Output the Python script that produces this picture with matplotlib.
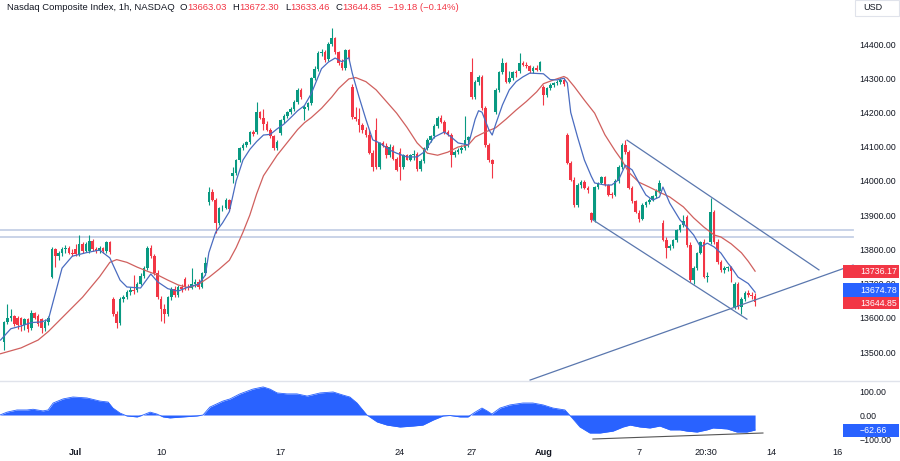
import matplotlib
matplotlib.use("Agg")
import matplotlib.pyplot as plt
import matplotlib.transforms as mtransforms
from matplotlib.patches import Rectangle

plt.rcParams['font.family'] = ['Liberation Sans', 'DejaVu Sans']

# Nasdaq Composite, 1h candles, Jun 28 - Aug 11 2023 (one line per session)
opens = [
    13530, 13588, 13598, 13604, 13600, 13598, 13578,  # Jun 28
    13595, 13570, 13615, 13605, 13595, 13570, 13588,  # Jun 29
    13720, 13800, 13780, 13788, 13800, 13805, 13790,  # Jun 30
    13800, 13785, 13815, 13795,                       # Jul 3 (half day)
    13795, 13825, 13800, 13796, 13805, 13795, 13820,  # Jul 5
    13655, 13612, 13585, 13655, 13662, 13675, 13682,  # Jul 6
    13680, 13700, 13722, 13745, 13805, 13780, 13732,  # Jul 7
    13655, 13625, 13610, 13660, 13685, 13668, 13690,  # Jul 10
    13712, 13690, 13688, 13698, 13705, 13690, 13731,  # Jul 11
    13938, 13968, 13945, 13877, 13920, 13922, 13945,  # Jul 12
    14015, 14023, 14061, 14096, 14105, 14113, 14142,  # Jul 13
    14142, 14201, 14185, 14165, 14150, 14130, 14096,  # Jul 14
    14140, 14178, 14190, 14200, 14210, 14230, 14265,  # Jul 17
    14210, 14216, 14228, 14300, 14328, 14375, 14378,  # Jul 18
    14355, 14400, 14417, 14377, 14344, 14330, 14382,  # Jul 19
    14275, 14187, 14182, 14163, 14148, 14134, 14081,  # Jul 20
    14150, 14040, 14110, 14102, 14075, 14100, 14065,  # Jul 21
    14085, 14040, 14075, 14062, 14075, 14080, 14035,  # Jul 24
    14058, 14096, 14120, 14130, 14160, 14185, 14172,  # Jul 25
    14144, 14135, 14075, 14085, 14090, 14095, 14120,  # Jul 26
    14318, 14245, 14289, 14304, 14213, 14105, 14061,  # Jul 27
    14201, 14266, 14318, 14344, 14290, 14300, 14318,  # Jul 28
    14320, 14345, 14340, 14335, 14320, 14330, 14325,  # Jul 31
    14275, 14251, 14270, 14280, 14285, 14290, 14295,  # Aug 1
    14134, 14052, 14002, 13930, 13988, 13998, 13980,  # Aug 2
    13905, 13886, 13982, 13994, 14011, 13988, 13960,  # Aug 3
    13960, 14000, 14040, 14104, 14085, 13979, 13940,  # Aug 4
    13905, 13890, 13930, 13938, 13945, 13955, 13970,  # Aug 7
    13877, 13827, 13804, 13810, 13827, 13857, 13872,  # Aug 8
    13895, 13812, 13710, 13745, 13789, 13821, 13719,  # Aug 9
    13821, 13909, 13821, 13763, 13739, 13745, 13748,  # Aug 10
    13632, 13700, 13632, 13655, 13672, 13666, 13663.03,  # Aug 11
]
highs = [
    13592, 13640, 13625, 13608, 13606, 13602, 13600,
    13598, 13622, 13618, 13610, 13598, 13595, 13605,
    13808, 13805, 13795, 13808, 13812, 13810, 13800,
    13815, 13842, 13820, 13822,
    13842, 13830, 13808, 13810, 13808, 13825, 13825,
    13660, 13620, 13660, 13668, 13680, 13690, 13725,
    13705, 13730, 13752, 13810, 13812, 13785, 13740,
    13665, 13640, 13665, 13690, 13692, 13695, 13698,
    13718, 13700, 13745, 13712, 13712, 13735, 13778,
    13982, 13975, 13950, 13925, 13930, 13950, 13948,
    14040, 14065, 14100, 14110, 14118, 14145, 14148,
    14232, 14205, 14210, 14175, 14155, 14135, 14120,
    14182, 14195, 14205, 14215, 14235, 14272, 14270,
    14222, 14232, 14305, 14335, 14380, 14385, 14382,
    14405, 14447, 14420, 14380, 14355, 14386, 14386,
    14282, 14215, 14213, 14170, 14158, 14150, 14090,
    14185, 14115, 14118, 14110, 14108, 14105, 14070,
    14095, 14080, 14080, 14080, 14090, 14085, 14065,
    14100, 14125, 14135, 14165, 14190, 14192, 14178,
    14148, 14140, 14090, 14095, 14105, 14190, 14130,
    14360, 14295, 14310, 14310, 14218, 14110, 14065,
    14270, 14322, 14360, 14348, 14320, 14322, 14325,
    14374, 14350, 14348, 14340, 14335, 14340, 14350,
    14280, 14275, 14285, 14290, 14295, 14300, 14300,
    14140, 14058, 14010, 13995, 14002, 14003, 13985,
    13910, 13985, 13998, 14015, 14015, 13992, 13968,
    14005, 14045, 14110, 14120, 14090, 13985, 13945,
    13915, 13935, 13942, 13950, 13958, 13975, 14002,
    13885, 13835, 13815, 13830, 13860, 13875, 13900,
    13900, 13820, 13750, 13792, 13825, 13830, 13735,
    13950, 13915, 13830, 13770, 13750, 13752, 13752,
    13705, 13705, 13660, 13678, 13680, 13675, 13672.30,
]
lows = [
    13505, 13582, 13592, 13575, 13568, 13560, 13565,
    13558, 13565, 13595, 13575, 13555, 13560, 13580,
    13715, 13748, 13770, 13782, 13790, 13785, 13782,
    13780, 13780, 13790, 13792,
    13788, 13795, 13790, 13788, 13790, 13790, 13785,
    13605, 13570, 13580, 13645, 13655, 13668, 13670,
    13676, 13695, 13715, 13740, 13775, 13725, 13655,
    13590, 13585, 13605, 13652, 13660, 13662, 13675,
    13680, 13682, 13684, 13690, 13684, 13686, 13725,
    13930, 13940, 13848, 13870, 13912, 13918, 13912,
    13995, 14018, 14055, 14090, 14098, 14108, 14130,
    14138, 14180, 14150, 14145, 14125, 14090, 14090,
    14135, 14170, 14185, 14195, 14205, 14225, 14240,
    14178, 14208, 14222, 14295, 14320, 14365, 14348,
    14350, 14395, 14372, 14340, 14325, 14325, 14352,
    14180, 14175, 14142, 14140, 14128, 14078, 14030,
    14035, 14035, 14098, 14068, 14070, 14060, 14030,
    14003, 14035, 14060, 14058, 14060, 14030, 14030,
    14052, 14090, 14115, 14125, 14155, 14168, 14138,
    14130, 14040, 14070, 14078, 14082, 14090, 14100,
    14240, 14240, 14280, 14208, 14100, 14055, 14008,
    14195, 14260, 14312, 14285, 14285, 14295, 14305,
    14315, 14335, 14330, 14315, 14315, 14322, 14320,
    14222, 14245, 14265, 14275, 14280, 14282, 14278,
    14050, 14000, 13925, 13925, 13980, 13975, 13965,
    13880, 13880, 13975, 13990, 13985, 13955, 13950,
    13955, 13995, 14035, 14080, 13975, 13935, 13905,
    13880, 13885, 13925, 13932, 13940, 13950, 13965,
    13825, 13775, 13798, 13805, 13822, 13850, 13865,
    13808, 13705, 13700, 13740, 13785, 13715, 13705,
    13815, 13815, 13758, 13735, 13732, 13738, 13705,
    13625, 13625, 13610, 13650, 13660, 13655, 13633.46,
]
closes = [
    13588, 13598, 13604, 13582, 13580, 13578, 13595,
    13568, 13615, 13600, 13582, 13570, 13588, 13600,
    13800, 13780, 13788, 13800, 13805, 13790, 13787,
    13785, 13815, 13795, 13816,
    13825, 13800, 13796, 13805, 13795, 13820, 13791,
    13612, 13585, 13655, 13662, 13675, 13682, 13679,
    13700, 13722, 13745, 13805, 13780, 13732, 13660,
    13625, 13610, 13660, 13685, 13668, 13690, 13685,
    13690, 13688, 13698, 13705, 13690, 13731, 13760,
    13968, 13945, 13877, 13920, 13922, 13945, 13918,
    14023, 14061, 14096, 14105, 14113, 14142, 14138,
    14201, 14185, 14165, 14150, 14130, 14096, 14113,
    14178, 14190, 14200, 14210, 14230, 14265, 14244,
    14216, 14228, 14300, 14328, 14375, 14378, 14353,
    14400, 14417, 14377, 14344, 14330, 14382, 14358,
    14187, 14182, 14163, 14148, 14134, 14081, 14040,
    14040, 14110, 14102, 14075, 14100, 14065, 14032,
    14040, 14075, 14062, 14075, 14080, 14035, 14058,
    14096, 14120, 14130, 14160, 14185, 14172, 14144,
    14135, 14075, 14085, 14090, 14095, 14120, 14127,
    14245, 14289, 14304, 14213, 14105, 14061, 14050,
    14266, 14318, 14344, 14290, 14300, 14318, 14316,
    14345, 14340, 14335, 14320, 14330, 14325, 14346,
    14251, 14270, 14280, 14285, 14290, 14295, 14283,
    14052, 14002, 13930, 13988, 13998, 13980, 13973,
    13886, 13982, 13994, 14011, 13988, 13960, 13959,
    14000, 14040, 14104, 14085, 13979, 13940, 13909,
    13890, 13930, 13938, 13945, 13955, 13970, 13994,
    13827, 13804, 13810, 13827, 13857, 13872, 13884,
    13812, 13710, 13745, 13789, 13821, 13719, 13722,
    13909, 13821, 13763, 13739, 13745, 13748, 13737,
    13700, 13632, 13655, 13672, 13666, 13663, 13644.85,
]

# moving averages (bar number, value)
fast_ma_bar = [-1, 2, 5, 8, 11, 13, 15, 17, 20, 24, 28, 31, 34, 36, 40, 43, 45, 48,
               51, 54, 57, 59, 60, 62, 64, 66, 68, 70, 72, 74, 76, 78, 80, 82, 84,
               86, 88, 90, 93, 95, 97, 99, 101, 102, 104, 106, 108, 110, 113, 115,
               118, 121, 123, 126, 129, 131, 133, 136, 138, 139, 140, 142, 143, 144,
               146, 148, 150, 152, 154, 158, 160, 162, 164, 165, 166, 168, 170, 172,
               173, 176, 178, 180, 182, 184, 186, 188, 190, 192, 193, 195, 198, 200,
               202, 204, 206, 208, 210, 212, 213, 215, 218, 220]
fast_ma = [13535, 13568, 13576, 13586, 13588, 13595, 13670, 13745, 13780, 13790,
           13798, 13775, 13710, 13690, 13687, 13728, 13705, 13685, 13678, 13690,
           13698, 13725, 13790, 13850, 13877, 13910, 14000, 14061, 14092, 14115,
           14134, 14136, 14152, 14166, 14185, 14205, 14220, 14255, 14328, 14347,
           14359, 14348, 14360, 14315, 14245, 14180, 14120, 14111, 14090, 14081,
           14070, 14070, 14084, 14128, 14143, 14128, 14111, 14105, 14180, 14205,
           14201, 14150, 14134, 14165, 14222, 14266, 14290, 14304, 14315, 14313,
           14296, 14295, 14300, 14286, 14200, 14128, 14061, 14014, 13994, 13988,
           13988, 14003, 14046, 14032, 13994, 13959, 13944, 13953, 13982, 13935,
           13886, 13865, 13842, 13807, 13818, 13807, 13789, 13760, 13748, 13719,
           13700, 13674.78]
slow_ma_bar = [-1, 5, 10, 13, 18, 23, 28, 31, 33, 36, 39, 42, 45, 48, 51, 54, 57, 60,
               63, 66, 68, 70, 72, 74, 76, 78, 80, 82, 84, 86, 88, 90, 93, 96, 98, 101,
               103, 106, 109, 112, 115, 118, 121, 124, 127, 130, 133, 136, 138, 141,
               144, 147, 150, 153, 156, 158, 161, 164, 165, 167, 170, 173, 176, 179,
               181, 183, 186, 189, 192, 195, 199, 202, 205, 208, 210, 213, 216, 218, 220]
slow_ma = [13495, 13512, 13535, 13560, 13610, 13660, 13720, 13762, 13770, 13762,
           13748, 13736, 13725, 13710, 13696, 13688, 13698, 13718, 13742, 13768,
           13805, 13850, 13900, 13962, 14015, 14045, 14075, 14100, 14125, 14150,
           14170, 14185, 14212, 14245, 14270, 14298, 14302, 14290, 14266, 14232,
           14198, 14157, 14111, 14081, 14075, 14084, 14099, 14105, 14128, 14143,
           14155, 14180, 14207, 14232, 14260, 14284, 14295, 14305, 14300, 14276,
           14236, 14198, 14135, 14088, 14060, 14025, 13996, 13982, 13967, 13953,
           13924, 13892, 13865, 13842, 13836, 13816, 13790, 13765, 13736.17]

# oscillator in the lower pane (bar number, value)
osc_bar = [-1.2, 0.9, 3.8, 6.7, 8.5, 11.4, 12.9, 14.4, 17.3, 20.2, 24.3, 28.1, 30.5,
           31.9, 34, 36, 39, 40.7, 42.8, 44.8, 46.6, 48.6, 52.4, 56.5, 58.3, 60.3,
           64.1, 66.2, 69.1, 72.9, 75.9, 77.9, 80, 82.9, 85.8, 88.8, 92.6, 96.4,
           99.3, 101.3, 103.4, 106.3, 109.3, 112.2, 116, 119.8, 122.7, 125.7, 128.6,
           130.6, 133.6, 135.9, 138, 140, 141.5, 142.9, 145.3, 148.2, 152, 154.9,
           157.9, 160.8, 164.3, 166.4, 168.7, 171.6, 174.6, 178.4, 181.3, 183.4,
           186.3, 189.2, 192.1, 195.1, 198, 200, 203, 205.9, 207.7, 211.8, 214.7,
           217.6, 220]
osc_val = [0, 12, 21, 21, 24, 17, 21, 50, 67, 75, 71, 58, 54, 29, 8, -4, -8, 0, 12,
           4, -8, -12, -8, -4, 0, 33, 58, 67, 88, 108, 117, 108, 92, 88, 88, 79, 92,
           96, 83, 75, 50, 0, -29, -42, -50, -46, -42, -21, -4, -2, -8, -8, 12, 29,
           17, 4, 29, 42, 50, 50, 42, 29, 21, -12, -50, -75, -75, -67, -50, -42, -50,
           -54, -46, -62, -62, -67, -71, -62, -54, -58, -71, -71, -62.66]

# drawn lines (bar number, price)
resistance_levels = [13856, 13836]
channel_top = ([182.5, 238.7], [14119, 13740])
channel_bottom = ([172.5, 217.6], [13886, 13596])
rising_line = ([154.1, 248.7], [13418, 13754])
osc_line = ([172.5, 222.3], [-100, -75])

tick_bars = [21, 46, 81, 116, 137, 158, 186, 205.6, 224.7, 244]
tick_labels = ['Jul', '10', '17', '24', '27', 'Aug', '7', '20:30', '14', '16']

UP = '#089981'
DOWN = '#f23645'
BLUE = '#2962ff'
TXT = '#131722'

W, H = 900, 461
fig = plt.figure(figsize=(W / 100, H / 100), dpi=100)
ax = fig.add_axes([0, (H - 380) / H, 843 / W, 380 / H])
ax2 = fig.add_axes([0, (H - 441) / H, 843 / W, 60 / H])

bars = list(range(len(closes)))
colors = [UP if c >= o else DOWN for o, c in zip(opens, closes)]
body_lo = [min(o, c) for o, c in zip(opens, closes)]
body_h = [max(abs(c - o), 2) for o, c in zip(opens, closes)]

ax.vlines(bars, lows, highs, colors=colors, linewidth=0.8, zorder=3)
ax.bar(bars, body_h, bottom=body_lo, width=0.76, color=colors, linewidth=0, zorder=4)

ax.plot(slow_ma_bar, slow_ma, color='#d0605e', lw=0.9, zorder=5)
ax.plot(fast_ma_bar, fast_ma, color='#4a6cc0', lw=0.9, zorder=5)

for lvl in resistance_levels:
    ax.plot([-2, 248.7], [lvl, lvl], color='#c5d0e6', lw=1.3, clip_on=False, zorder=2)

line_col = '#5a77ae'
ax.plot(*channel_top, color=line_col, lw=0.9, zorder=6)
ax.plot(*channel_bottom, color=line_col, lw=0.9, zorder=6)
ax.plot(*rising_line, color=line_col, lw=0.9, zorder=6, clip_on=False)

ax.set_xlim(-1.172, 245.75)
ax.set_ylim(13418.2, 14528.6)
ax.set_xticks([])
ax.yaxis.tick_right()
ax.set_yticks(range(13500, 14401, 100))
ax.set_yticklabels([f'{v:.2f}' for v in range(13500, 14401, 100)])
ax.tick_params(axis='y', length=0, pad=12, labelsize=6.3, labelcolor=TXT)
for s in ax.spines.values():
    s.set_visible(False)

# lower pane
ax2.fill_between(osc_bar, osc_val, 0, color=BLUE, lw=0)
ax2.plot(osc_bar, osc_val, color=BLUE, lw=0.6)
ax2.plot(*osc_line, color='#555555', lw=0.8)
ax2.set_xlim(-1.172, 245.75)
ax2.set_ylim(-108.3, 141.7)
ax2.yaxis.tick_right()
ax2.set_yticks([100, 0, -100])
ax2.set_yticklabels(['100.00', '0.00', '\u2212100.00'])
ax2.tick_params(axis='y', length=0, pad=12, labelsize=6.3, labelcolor=TXT)
ax2.set_xticks(tick_bars)
ax2.set_xticklabels(tick_labels)
ax2.tick_params(axis='x', length=0, pad=5, labelsize=6.6, labelcolor=TXT)
for lab in ax2.get_xticklabels():
    if lab.get_text() in ('Jul', 'Aug'):
        lab.set_fontweight('bold')
for s in ax2.spines.values():
    s.set_visible(False)

# pane separator
fig.add_artist(plt.Line2D([0, 1], [(H - 380.5) / H] * 2, color='#e0e3eb', lw=1))

# last-value boxes on the price scale
box_x = 843 / W
box_w = 56 / W
tr_main = mtransforms.blended_transform_factory(fig.transFigure, ax.transData)
ppu = 380 / (14528.6 - 13418.2)
last_boxes = [(slow_ma[-1], 271.2, 13, DOWN),
              (closes[-1], 303.0, 11, DOWN),
              (fast_ma[-1], 290.0, 14, BLUE)]
for val, ypx, hpx, col in last_boxes:
    yc = 14528.6 - ypx / ppu
    ax.add_patch(Rectangle((box_x, yc - hpx / 2 / ppu), box_w, hpx / ppu,
                           transform=tr_main, facecolor=col, edgecolor='none',
                           clip_on=False, zorder=10))
    ax.text(860 / W, yc, f'{val:.2f}', transform=tr_main, color='white',
            fontsize=6.3, va='center', ha='left', clip_on=False, zorder=11)

# last oscillator value box (13 px tall, 0.24 px per unit)
tr_osc = mtransforms.blended_transform_factory(fig.transFigure, ax2.transData)
osc_last = osc_val[-1]
ax2.add_patch(Rectangle((box_x, osc_last - 6.5 / 0.24), box_w, 13 / 0.24,
                        transform=tr_osc, facecolor=BLUE, edgecolor='none',
                        clip_on=False, zorder=10))
ax2.text(860 / W, osc_last, f'{osc_last:.2f}'.replace('-', '\u2212'),
         transform=tr_osc, color='white', fontsize=6.3, va='center', ha='left',
         clip_on=False, zorder=11)

# USD box
fig.add_artist(Rectangle((855 / W, (H - 16) / H), 44 / W, 16 / H, transform=fig.transFigure,
                         facecolor='white', edgecolor='#e0e3eb', lw=0.8))
fig.text(863 / W, 1 - 8 / H, 'USD', color=TXT, fontsize=6.5, va='center', ha='left')

# header line
renderer = fig.canvas.get_renderer()
parts = [('Nasdaq Composite Index, 1h, NASDAQ', TXT, 5),
         ('O', TXT, 0), ('13663.03', DOWN, 6),
         ('H', TXT, 0), ('13672.30', DOWN, 6),
         ('L', TXT, 0), ('13633.46', DOWN, 6),
         ('C', TXT, 0), ('13644.85', DOWN, 6),
         ('\u221219.18 (\u22120.14%)', DOWN, 0)]
xpos = 7
for txt, col, gap in parts:
    t = fig.text(xpos / W, 1 - 8 / H, txt, color=col, fontsize=6.8, va='center', ha='left')
    xpos = t.get_window_extent(renderer).x1 + gap

fig.savefig('out.png', dpi=100, facecolor='white')
